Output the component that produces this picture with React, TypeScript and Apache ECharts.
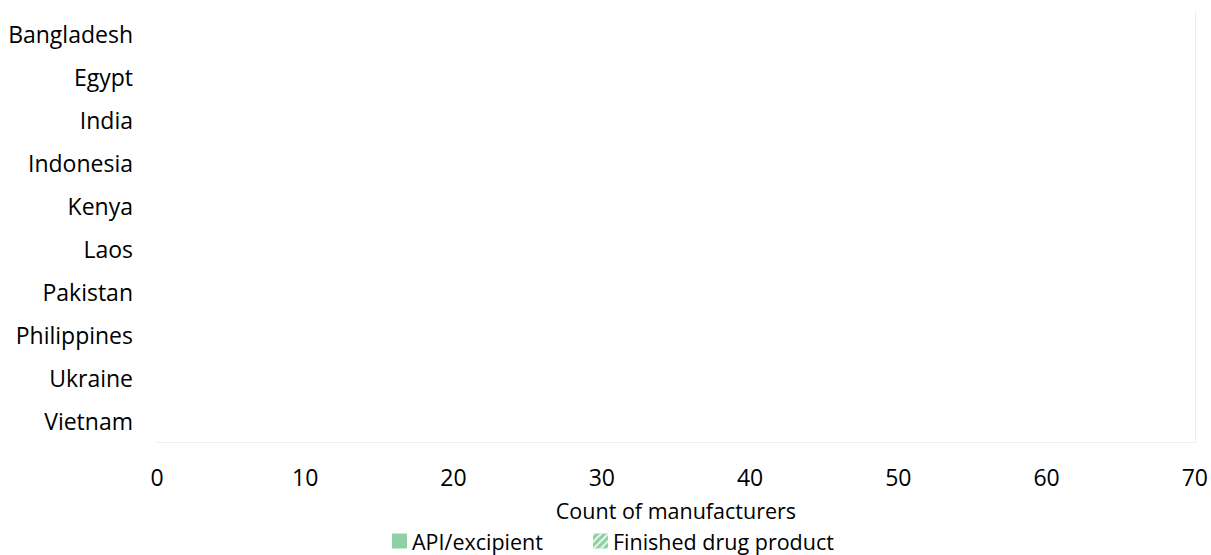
import React, { useEffect, useRef } from "react";
import * as echarts from "echarts";

const countries = [
  "Bangladesh",
  "Egypt",
  "India",
  "Indonesia",
  "Kenya",
  "Laos",
  "Pakistan",
  "Philippines",
  "Ukraine",
  "Vietnam",
];
const apiExcipient = [0, 0, 0, 0, 0, 0, 0, 0, 0, 0];
const finishedDrug = [0, 0, 0, 0, 0, 0, 0, 0, 0, 0];
const xTicks = [0, 10, 20, 30, 40, 50, 60, 70];

const FONT = "'Open Sans', 'Noto Sans', sans-serif";
const GREEN = "#8fd1a5";

export default function App() {
  const ref = useRef<HTMLDivElement>(null);
  useEffect(() => {
    if (!ref.current) return;
    const chart = echarts.init(ref.current, undefined, { renderer: "svg" });
    chart.setOption({
      animation: false,
      backgroundColor: "#ffffff",
      textStyle: { fontFamily: FONT },
      grid: { left: 157, right: 14, top: 12, bottom: 113, containLabel: false },
      legend: {
        left: 392,
        top: 530,
        padding: 0,
        itemWidth: 15,
        itemHeight: 15,
        itemGap: 50,
        icon: "rect",
        textStyle: {
          fontFamily: FONT,
          fontSize: 21.5,
          lineHeight: 16,
          color: "#000",
          padding: [0, 0, 0, 0],
        },
        data: ["API/excipient", "Finished drug product"],
      },
      xAxis: {
        type: "value",
        min: xTicks[0],
        max: xTicks[xTicks.length - 1],
        interval: 10,
        name: "Count of manufacturers",
        nameLocation: "middle",
        nameGap: 60,
        nameTextStyle: { fontFamily: FONT, fontSize: 21.5, lineHeight: 16, color: "#000" },
        axisLine: { show: true, lineStyle: { color: "#eeeeee", width: 1 } },
        axisTick: { show: false },
        splitLine: { show: false },
        axisLabel: { fontFamily: FONT, fontSize: 23, color: "#000", margin: 23 },
      },
      yAxis: [
        {
          type: "category",
          inverse: true,
          data: countries,
          axisLine: { show: false },
          axisTick: { show: false },
          axisLabel: { fontFamily: FONT, fontSize: 23, color: "#000", margin: 24 },
        },
        {
          type: "category",
          inverse: true,
          position: "right",
          data: countries,
          axisLine: { show: true, lineStyle: { color: "#eeeeee", width: 1 } },
          axisTick: { show: false },
          axisLabel: { show: false },
        },
      ],
      series: [
        {
          name: "API/excipient",
          type: "bar",
          stack: "total",
          data: apiExcipient,
          itemStyle: { color: GREEN },
        },
        {
          name: "Finished drug product",
          type: "bar",
          stack: "total",
          data: finishedDrug,
          itemStyle: {
            color: GREEN,
            decal: {
              symbol: "rect",
              color: "rgba(255,255,255,0.8)",
              dashArrayX: [1, 0],
              dashArrayY: [2, 3],
              rotation: -Math.PI / 4,
            },
          },
        },
      ],
    });
    return () => chart.dispose();
  }, []);
  return (
    <div
      ref={ref}
      style={{ position: "absolute", left: 0, top: 0, width: 1211, height: 555 }}
    />
  );
}
